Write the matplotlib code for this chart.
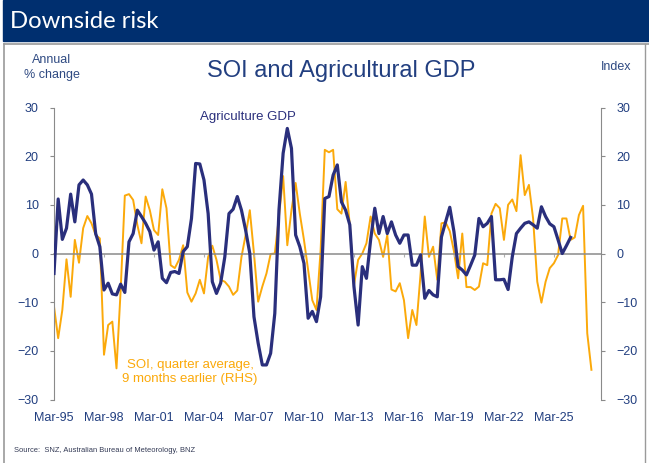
import numpy as np
import matplotlib
matplotlib.use('Agg')
import matplotlib.pyplot as plt
from matplotlib.patches import Rectangle
from matplotlib.lines import Line2D

plt.rcParams['font.family'] = ['Liberation Sans', 'DejaVu Sans']

# quarterly, starting Mar-95
gdp = [-4.1, 11.2, 2.9, 5.2, 12.2, 6.5, 14.1, 15.1, 14.1, 12.2,
       4.1, 1.4, -7.5, -6.1, -8.3, -8.5, -6.3, -8.0, 2.4, 4.1,
       8.9, 7.6, 6.2, 4.5, 0.7, 2.4, -5.1, -6.0, -3.9, -3.7,
       -4.1, 0.4, 1.4, 7.2, 18.5, 18.4, 15.1, 8.2, -5.8, -8.2,
       -6.1, -0.7, 8.2, 9.1, 11.7, 8.9, 4.8, 0.0, -13.0, -18.4,
       -22.9, -22.9, -20.5, -12.3, 8.9, 20.6, 25.7, 21.6, 3.8, 1.4,
       -2.0, -13.3, -11.9, -14.0, -8.9, 11.3, 11.7, 16.1, 18.2, 10.6,
       8.9, 5.9, -6.8, -14.7, -2.7, -5.1, 2.8, 9.3, 4.1, 7.6,
       4.1, 6.5, 3.8, 2.1, 3.8, 3.8, -2.4, -2.4, -0.3, -9.2,
       -7.6, -8.5, -8.9, 3.4, 6.5, 9.5, 4.5, -2.7, -3.4, -4.4,
       -2.4, -0.3, 7.2, 5.5, 6.2, 7.6, -5.4, -5.4, -5.3, -7.4,
       -0.7, 4.1, 5.2, 6.2, 6.5, 5.9, 5.2, 9.6, 7.6, 6.1,
       5.5, 2.8, 0.0, 1.6, 3.3]

soi = [-10.9, -17.4, -11.6, -1.2, -8.9, 2.8, -1.9, 5.2, 7.7, 6.2,
       3.8, 3.1, -20.8, -14.7, -14.0, -23.6, -7.5, 11.9, 12.2, 11.0,
       5.9, 2.1, 11.7, 8.9, 4.8, 3.8, 13.2, 9.3, -2.4, -3.0,
       -1.3, 1.7, -8.0, -9.9, -8.2, -5.4, -8.2, -0.7, 1.6, -1.3,
       -5.4, -5.8, -6.8, -8.5, -7.6, -0.7, 3.8, 8.9, 0.0, -9.9,
       -6.8, -4.1, -0.1, 0.0, 7.6, 15.9, 1.7, 8.9, 14.5, 8.2,
       2.8, -3.4, -9.6, -11.6, 0.7, 21.3, 20.8, 21.3, 9.1, 8.2,
       14.7, 5.9, -6.5, -1.3, 0.0, 2.1, 7.6, 4.1, 2.8, -0.7,
       3.8, -7.4, -7.8, -6.1, -9.6, -17.4, -11.6, -14.7, -4.1, 7.6,
       -0.7, 1.4, -5.4, 6.2, 6.4, 4.6, 0.5, -5.1, 4.1, -6.9,
       -6.9, -7.5, -6.8, -2.0, -2.4, 8.2, 10.2, 9.3, 2.8, 10.0,
       11.1, 8.7, 20.2, 12.0, 14.1, 7.2, -5.8, -10.1, -5.8, -3.0,
       -2.0, -0.3, 7.2, 7.2, 2.8, 3.3, 7.9, 9.8, -16.4, -23.9]

tick_labels = ['Mar-95', 'Mar-98', 'Mar-01', 'Mar-04', 'Mar-07', 'Mar-10',
               'Mar-13', 'Mar-16', 'Mar-19', 'Mar-22', 'Mar-25']

navy = '#2a2f7c'
orange = '#fba90a'
txt = '#223f80'
grey = '#8a8a8a'

W, H = 649, 463
fig = plt.figure(figsize=(W / 100, H / 100), dpi=100)

# header band and frame
fig.patches.append(Rectangle((3 / W, 1 - 41 / H), 1, 41 / H, transform=fig.transFigure,
                             color='#002f6f', zorder=0))
fig.lines.append(Line2D([4 / W, 1], [1 - 44 / H, 1 - 44 / H], transform=fig.transFigure,
                        color='#9a9a9a', lw=1.2))
fig.lines.append(Line2D([4 / W, 4 / W], [0, 1 - 44 / H], transform=fig.transFigure,
                        color='#9a9a9a', lw=1.2))
fig.lines.append(Line2D([645 / W, 645 / W], [0, 1 - 44 / H], transform=fig.transFigure,
                        color='#9a9a9a', lw=1.0))
fig.text(10 / W, 1 - 21 / H, 'Downside risk', color='white', fontsize=17.2,
         family='Lato', va='center', ha='left')

ax = fig.add_axes([54 / W, 1 - 399.5 / H, 547 / W, 292 / H])
x = np.arange(len(gdp))
xs = np.arange(len(soi))

ax.set_xlim(0, 131.3)
ax.set_ylim(-30, 30)
ax.set_yticks([-30, -20, -10, 0, 10, 20, 30])
ax.tick_params(axis='y', colors=grey, labelcolor=txt, labelsize=9, length=3, pad=8)
ax.spines['top'].set_visible(False)
ax.spines['left'].set_color(grey)
ax.spines['right'].set_visible(False)
ax.spines['bottom'].set_position(('data', 0))
ax.spines['bottom'].set_color(grey)
ax.spines['bottom'].set_linewidth(1.1)
ax.set_xticks(np.arange(0, 121, 12))
ax.tick_params(axis='x', colors='#b0b0b0', length=2.5, labelbottom=False)

sec = ax.secondary_xaxis('bottom')
sec.set_xticks(np.arange(0, 121, 12))
sec.set_xticklabels(tick_labels)
sec.tick_params(length=0, labelsize=9, labelcolor=txt, pad=9)
sec.spines['bottom'].set_visible(False)

ax2 = ax.twinx()
ax2.set_ylim(-30, 30)
ax2.set_yticks([-30, -20, -10, 0, 10, 20, 30])
ax2.tick_params(axis='y', colors=grey, labelcolor=txt, labelsize=9, length=3, pad=8)
for s in ['top', 'left', 'bottom']:
    ax2.spines[s].set_visible(False)
ax2.spines['right'].set_color(grey)

ax2.plot(xs, soi, color=orange, lw=1.4, zorder=2)
ax.set_zorder(ax2.get_zorder() + 1)
ax.patch.set_visible(False)
ax.plot(x, gdp, color=navy, lw=2.3, zorder=3)

fig.text(341 / W, 1 - 71 / H, 'SOI and Agricultural GDP', color=txt, fontsize=17,
         ha='center', va='center')
fig.text(52 / W, 1 - 60 / H, 'Annual', color='#2f4a82', fontsize=9, ha='center', va='center')
fig.text(52 / W, 1 - 75 / H, '% change', color='#2f4a82', fontsize=9, ha='center', va='center')
fig.text(616 / W, 1 - 67 / H, 'Index', color='#2f4a82', fontsize=9, ha='center', va='center')

fig.text(248 / W, 1 - 117 / H, 'Agriculture GDP', color=navy, fontsize=9.5,
         ha='center', va='center')
fig.text(190 / W, 1 - 372 / H, 'SOI, quarter average,\n9 months earlier (RHS)', color=orange,
         fontsize=9.5, ha='center', va='center', linespacing=1.15)

fig.text(14 / W, 1 - 450 / H, 'Source:  SNZ, Australian Bureau of Meteorology, BNZ',
         color='#333a55', fontsize=5.4, ha='left', va='center')

fig.savefig('out.png', dpi=100)
